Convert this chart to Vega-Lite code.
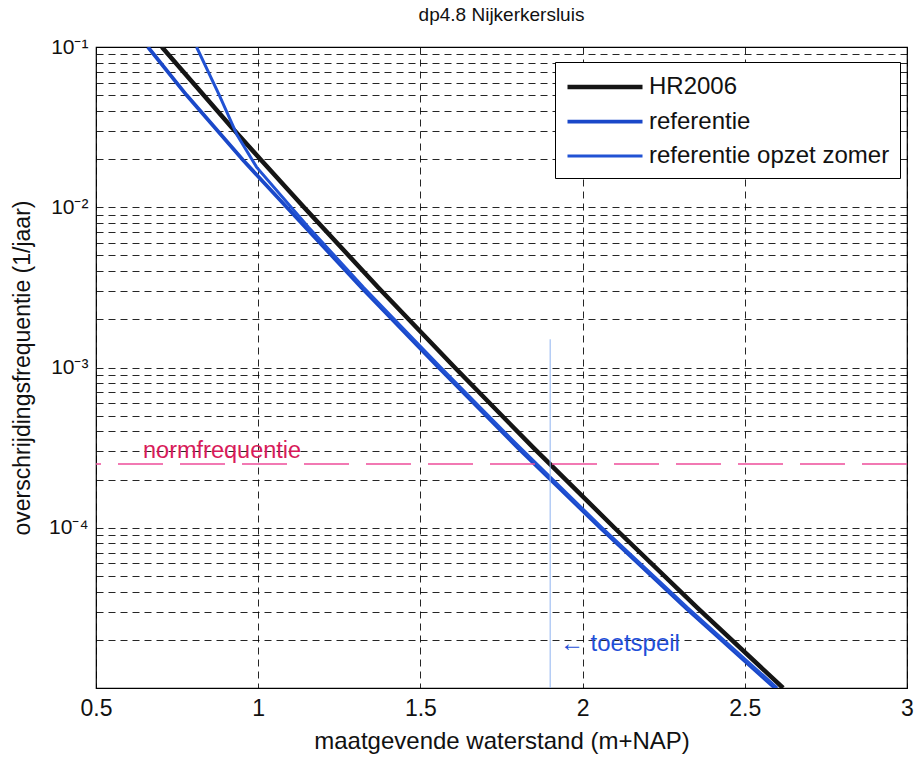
{
  "$schema": "https://vega.github.io/schema/vega-lite/v6.json",
  "width": 811,
  "height": 641,
  "autosize": {"type": "none"},
  "padding": {"left": 96, "top": 47, "right": 11, "bottom": 71},
  "config": {
    "font": "Liberation Sans",
    "view": {"stroke": "#000000", "strokeWidth": 1.2},
    "axis": {"labelColor": "#111", "titleColor": "#111", "titleFontWeight": "normal"}
  },
  "title": {"text": "dp4.8 Nijkerkersluis", "fontSize": 19, "fontWeight": "normal", "font": "Liberation Sans", "color": "#111", "offset": 11, "anchor": "middle"},
  "datasets": {
    "lines": [
      {"s": "HR2006", "x": 0.703, "f": 0.1},
      {"s": "HR2006", "x": 0.918, "f": 0.0316},
      {"s": "HR2006", "x": 1.006, "f": 0.02},
      {"s": "HR2006", "x": 1.141, "f": 0.01},
      {"s": "HR2006", "x": 1.37, "f": 0.00316},
      {"s": "HR2006", "x": 1.606, "f": 0.001},
      {"s": "HR2006", "x": 1.848, "f": 0.000316},
      {"s": "HR2006", "x": 2.098, "f": 0.0001},
      {"s": "HR2006", "x": 2.354, "f": 0.0000316},
      {"s": "HR2006", "x": 2.618, "f": 0.00001},
      {"s": "referentie", "x": 0.66, "f": 0.1},
      {"s": "referentie", "x": 0.779, "f": 0.0501},
      {"s": "referentie", "x": 0.953, "f": 0.0197},
      {"s": "referentie", "x": 1.088, "f": 0.01},
      {"s": "referentie", "x": 1.318, "f": 0.00316},
      {"s": "referentie", "x": 1.556, "f": 0.001},
      {"s": "referentie", "x": 1.8, "f": 0.000316},
      {"s": "referentie", "x": 2.054, "f": 0.0001},
      {"s": "referentie", "x": 2.318, "f": 0.0000316},
      {"s": "referentie", "x": 2.593, "f": 0.00001},
      {"s": "referentie opzet zomer", "x": 0.81, "f": 0.1},
      {"s": "referentie opzet zomer", "x": 0.88, "f": 0.0501},
      {"s": "referentie opzet zomer", "x": 0.935, "f": 0.0282},
      {"s": "referentie opzet zomer", "x": 0.995, "f": 0.0178},
      {"s": "referentie opzet zomer", "x": 1.155, "f": 0.0075},
      {"s": "referentie opzet zomer", "x": 1.325, "f": 0.00316},
      {"s": "referentie opzet zomer", "x": 1.563, "f": 0.001},
      {"s": "referentie opzet zomer", "x": 1.807, "f": 0.000316},
      {"s": "referentie opzet zomer", "x": 2.06, "f": 0.0001},
      {"s": "referentie opzet zomer", "x": 2.324, "f": 0.0000316},
      {"s": "referentie opzet zomer", "x": 2.6, "f": 0.00001}
    ],
    "norm": [{"f": 0.00025, "x": 0.645, "label": "normfrequentie"}],
    "toets": [{"x": 1.9, "f": 0.00001, "f2": 0.0015}],
    "toetslabel": [{"x": 1.93, "f": 0.0000188, "label": "← toetspeil"}]
  },
  "layer": [
    {
      "data": {"name": "lines"},
      "mark": {"type": "line", "clip": true},
      "encoding": {
        "x": {
          "field": "x", "type": "quantitative",
          "scale": {"domain": [0.5, 3], "nice": false, "zero": false},
          "axis": {
            "title": "maatgevende waterstand (m+NAP)",
            "values": [0.5, 1, 1.5, 2, 2.5, 3],
            "format": "~g",
            "labelFontSize": 23, "titleFontSize": 24,
            "labelPadding": 9, "titlePadding": 9,
            "labelFlush": false, "labelOverlap": false,
            "ticks": false, "domain": false,
            "grid": true, "gridDash": [7, 5], "gridColor": "#000", "gridOpacity": 0.85, "gridWidth": 1
          }
        },
        "y": {
          "field": "f", "type": "quantitative",
          "scale": {"type": "log", "domain": [0.00001, 0.1], "nice": false},
          "axis": {
            "title": "overschrijdingsfrequentie (1/jaar)",
            "values": [0.00001, 0.00002, 0.00003, 0.00004, 0.00005, 0.00006, 0.00007, 0.00008, 0.00009,
                       0.0001, 0.0002, 0.0003, 0.0004, 0.0005, 0.0006, 0.0007, 0.0008, 0.0009,
                       0.001, 0.002, 0.003, 0.004, 0.005, 0.006, 0.007, 0.008, 0.009,
                       0.01, 0.02, 0.03, 0.04, 0.05, 0.06, 0.07, 0.08, 0.09, 0.1],
            "labelExpr": "datum.value == 0.1 ? '10⁻¹' : datum.value == 0.01 ? '10⁻²' : datum.value == 0.001 ? '10⁻³' : datum.value == 0.0001 ? '10⁻⁴' : ''",
            "labelFontSize": 21, "titleFontSize": 23,
            "labelPadding": 8, "titlePadding": 14,
            "labelFlush": false, "labelOverlap": false,
            "ticks": false, "domain": false,
            "grid": true, "gridDash": [7, 5], "gridColor": "#000", "gridOpacity": 0.85, "gridWidth": 1
          }
        },
        "color": {
          "field": "s", "type": "nominal",
          "scale": {"domain": ["HR2006", "referentie", "referentie opzet zomer"], "range": ["#151515", "#1a48c9", "#2152d4"]},
          "legend": {
            "title": null, "orient": "none", "legendX": 459, "legendY": 15,
            "fillColor": "#ffffff", "strokeColor": "#000000", "padding": 10,
            "symbolType": "M-1,0H5", "symbolSize": 625, "symbolStrokeWidth": 4,
            "labelFontSize": 24, "labelOffset": 54, "labelLimit": 400, "rowPadding": 8, "labelColor": "#111"
          }
        },
        "strokeWidth": {
          "field": "s", "type": "nominal",
          "scale": {"domain": ["HR2006", "referentie", "referentie opzet zomer"], "range": [4.5, 3, 2]},
          "legend": null
        }
      }
    },
    {
      "data": {"name": "norm"},
      "mark": {"type": "rule", "color": "#ee4d9b", "strokeWidth": 1.5, "strokeDash": [45, 17]},
      "encoding": {"y": {"field": "f", "type": "quantitative"}}
    },
    {
      "data": {"name": "norm"},
      "mark": {"type": "text", "align": "left", "baseline": "middle", "dy": -13, "fontSize": 23.5, "color": "#d81b5a", "font": "Liberation Sans"},
      "encoding": {
        "x": {"field": "x", "type": "quantitative"},
        "y": {"field": "f", "type": "quantitative"},
        "text": {"field": "label"}
      }
    },
    {
      "data": {"name": "toets"},
      "mark": {"type": "rule", "color": "#8fb4f0", "strokeWidth": 1},
      "encoding": {
        "x": {"field": "x", "type": "quantitative"},
        "y": {"field": "f", "type": "quantitative"},
        "y2": {"field": "f2"}
      }
    },
    {
      "data": {"name": "toetslabel"},
      "mark": {"type": "text", "align": "left", "baseline": "middle", "fontSize": 24, "color": "#1f4fd8", "font": "Liberation Sans"},
      "encoding": {
        "x": {"field": "x", "type": "quantitative"},
        "y": {"field": "f", "type": "quantitative"},
        "text": {"field": "label"}
      }
    }
  ]
}
